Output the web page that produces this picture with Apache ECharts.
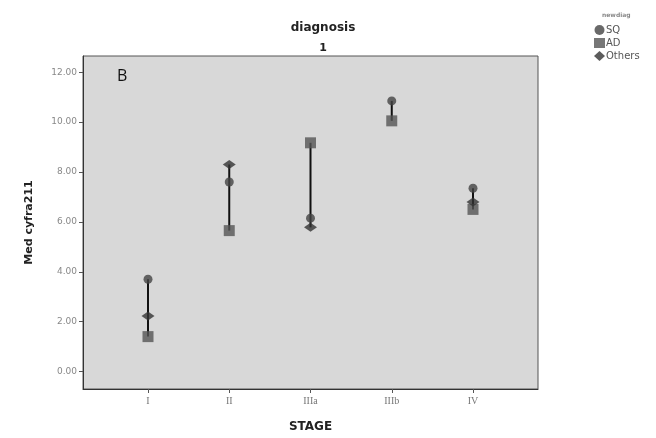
<!DOCTYPE html>
<html><head><meta charset="utf-8">
<script src="https://cdn.jsdelivr.net/npm/echarts@6/dist/echarts.min.js"></script>
<style>html,body{margin:0;padding:0;background:#fff}#c{width:656px;height:438px}</style>
</head><body><div id="c"></div>
<script>
var stages = ['I', 'II', 'IIIa', 'IIIb', 'IV'];
var sqValues = [3.70, 7.60, 6.15, 10.85, 7.35];
var adValues = [1.40, 5.65, 9.17, 10.05, 6.50];
var othersValues = [2.23, 8.30, 5.78, null, 6.80];
var yTicks = [0, 2, 4, 6, 8, 10, 12];

function pts(arr) {
  var out = [];
  arr.forEach(function (v, i) { if (v != null) out.push([i + 1, v]); });
  return out;
}
var ranges = stages.map(function (s, i) {
  var vals = [sqValues[i], adValues[i], othersValues[i]].filter(function (v) { return v != null; });
  return [i + 1, Math.min.apply(null, vals), Math.max.apply(null, vals)];
});

var chart = echarts.init(document.getElementById('c'));
chart.setOption({
  animation: false,
  backgroundColor: '#fff',
  title: [
    { text: 'diagnosis', left: 318, top: 17, textAlign: 'center',
      textStyle: { fontFamily: 'DejaVu Sans', fontSize: 12, fontWeight: 'bold', color: '#222' } },
    { text: '1', left: 318, top: 38, textAlign: 'center',
      textStyle: { fontFamily: 'DejaVu Sans', fontSize: 11, fontWeight: 'bold', color: '#222' } },
    { text: 'B', left: 112, top: 63,
      textStyle: { fontFamily: 'Open Sans', fontSize: 16, fontWeight: 'normal', color: '#111' } },
    { text: 'newdiag', left: 597, top: 7,
      textStyle: { fontFamily: 'DejaVu Sans', fontSize: 6, color: '#888' } }
  ],
  legend: {
    orient: 'vertical', left: 589, top: 20, itemGap: 3, itemWidth: 11, itemHeight: 10,
    textStyle: { fontFamily: 'DejaVu Sans', fontSize: 10, color: '#555', padding: [0, 0, 0, -4] },
    data: ['SQ', 'AD', 'Others']
  },
  grid: { left: 83, top: 56, right: 118, bottom: 48, show: true,
    backgroundColor: '#d8d8d8', borderColor: '#555', borderWidth: 1 },
  xAxis: {
    type: 'value', min: 0.2, max: 5.8,
    name: 'STAGE', nameLocation: 'middle', nameGap: 32,
    nameTextStyle: { fontFamily: 'DejaVu Sans', fontSize: 12, fontWeight: 'bold', color: '#222' },
    axisLine: { onZero: false, lineStyle: { color: '#333' } },
    splitLine: { show: false },
    axisTick: { customValues: [1, 2, 3, 4, 5], length: 4, lineStyle: { color: '#555' } },
    axisLabel: { customValues: [1, 2, 3, 4, 5], margin: 7, fontFamily: 'Liberation Serif', fontSize: 10, color: '#777',
      formatter: function (v) { return stages[Math.round(v) - 1] || ''; } }
  },
  yAxis: {
    type: 'value', min: -0.7, max: 12.65,
    name: 'Med cyfra211', nameLocation: 'middle', nameGap: 48,
    nameTextStyle: { fontFamily: 'DejaVu Sans', fontSize: 11, fontWeight: 'bold', color: '#222' },
    axisLine: { show: true, onZero: false, lineStyle: { color: '#333' } },
    splitLine: { show: false },
    axisTick: { customValues: yTicks, length: 4, lineStyle: { color: '#555' } },
    axisLabel: { customValues: yTicks, margin: 6, fontFamily: 'DejaVu Sans', fontSize: 9, color: '#888',
      formatter: function (v) { return v.toFixed(2); } }
  },
  series: [
    { type: 'custom', name: 'drop', silent: true, data: ranges,
      renderItem: function (params, api) {
        var a = api.coord([api.value(0), api.value(1)]);
        var b = api.coord([api.value(0), api.value(2)]);
        return { type: 'line', shape: { x1: a[0], y1: a[1], x2: b[0], y2: b[1] },
          style: { stroke: '#111', lineWidth: 2 } };
      }, z: 1 },
    { type: 'scatter', name: 'SQ', symbol: 'circle', symbolSize: 9, data: pts(sqValues),
      itemStyle: { color: '#444' }, z: 3 },
    { type: 'scatter', name: 'AD', symbol: 'rect', symbolSize: 11, data: pts(adValues),
      itemStyle: { color: '#555' }, z: 3 },
    { type: 'scatter', name: 'Others', symbol: 'diamond', symbolSize: [13, 9], data: pts(othersValues),
      itemStyle: { color: '#333' }, z: 3 }
  ]
});
</script></body></html>
